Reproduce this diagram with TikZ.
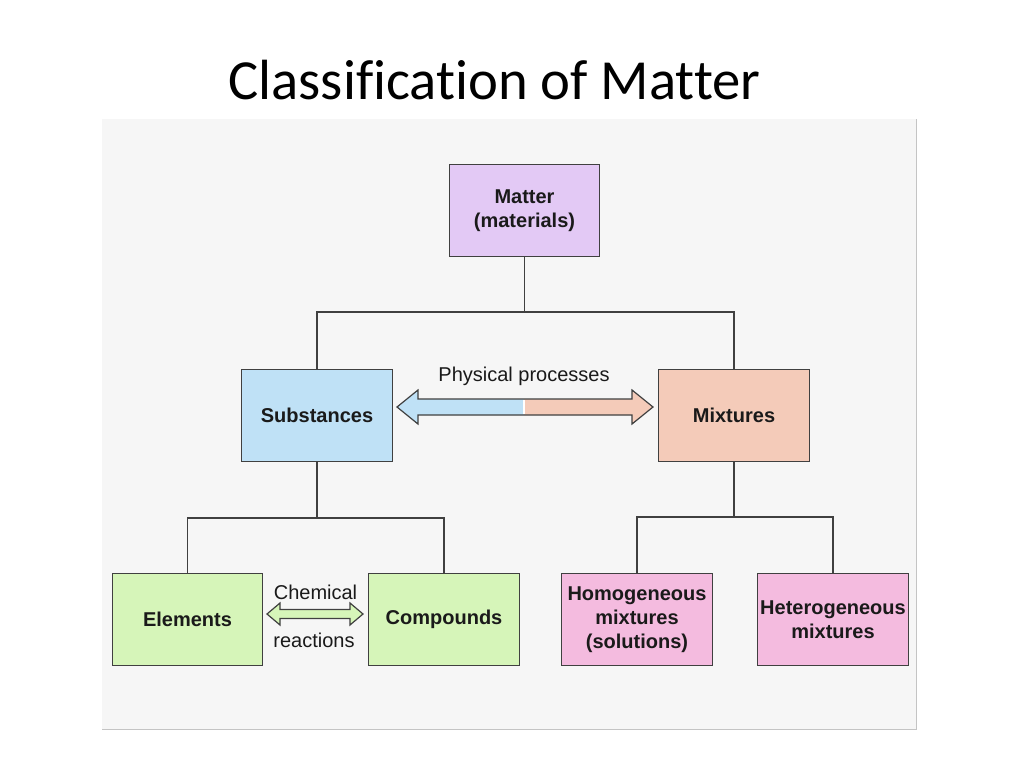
\documentclass[tikz,border=0pt]{standalone}
\usepackage{fontspec}
\setmainfont{Liberation Sans}
\newfontfamily\titlefont[Ligatures=NoCommon]{Carlito}
\definecolor{panel}{HTML}{F6F6F6}
\definecolor{panelline}{HTML}{C4C4C4}
\definecolor{boxline}{HTML}{404040}
\definecolor{textc}{HTML}{1A1A1A}
\definecolor{lav}{HTML}{E3C9F5}
\definecolor{sky}{HTML}{BFE1F6}
\definecolor{peach}{HTML}{F4CBB9}
\definecolor{lgreen}{HTML}{D6F5B9}
\definecolor{pinkc}{HTML}{F4BBDF}
\begin{document}
\begin{tikzpicture}[x=0.75pt,y=-0.75pt,
  box/.style={draw=boxline, line width=0.9pt, minimum width=113pt, minimum height=69.5pt,
    inner sep=0pt, align=center, font=\bfseries\fontsize{15}{18}\selectfont, text=textc},
  conn/.style={draw=boxline, line width=0.9pt},
  arrowshape/.style={draw=boxline, line width=0.9pt, line join=miter},
  lbl/.style={font=\fontsize{15}{18}\selectfont, text=textc, inner sep=0pt}]
\useasboundingbox (0,0) rectangle (1024,768);
\fill[white] (0,0) rectangle (1024,768);
\fill[panel] (102,119) rectangle (916,729);
\draw[panelline, line width=0.75pt] (102,729) -- (916,729) -- (916,119);

\node[anchor=base, inner sep=0pt, font=\titlefont\fontsize{42.5}{50}\selectfont] (title) at (494.5,99) {Classification of Matter};

\node[box, fill=lav] (matter) at (524.5,210.5) {Matter\\(materials)};
\node[box, fill=sky] (subst) at (317,415.5) {Substances};
\node[box, fill=peach] (mix) at (734,415.5) {Mixtures};
\node[box, fill=lgreen] (elem) at (187.5,619.5) {Elements};
\node[box, fill=lgreen] (comp) at (444,619.5) {Compounds};
\node[box, fill=pinkc] (homo) at (637,619.5) {Homogeneous\\mixtures\\(solutions)};
\node[box, fill=pinkc] (hetero) at (833,619.5) {Heterogeneous\\mixtures};

\coordinate (j1) at (524.5,312);
\coordinate (j2) at (317,518);
\coordinate (j3) at (734,517);
\draw[conn] (matter.south) -- (j1) -| (subst.north);
\draw[conn] (j1) -| (mix.north);
\draw[conn] (subst.south) -- (j2) -| (elem.north);
\draw[conn] (j2) -| (comp.north);
\draw[conn] (mix.south) -- (j3) -| (homo.north);
\draw[conn] (j3) -| (hetero.north);

% physical processes double arrow
\fill[sky] (397,407) -- (418,390) -- (418,399) -- (524,399) -- (524,415) -- (418,415) -- (418,424) -- cycle;
\fill[peach] (524,399) -- (632,399) -- (632,390) -- (653,407) -- (632,424) -- (632,415) -- (524,415) -- cycle;
\draw[white, line width=0.8pt] (524,400) -- (524,414);
\draw[arrowshape] (397,407) -- (418,390) -- (418,399) -- (632,399) -- (632,390) -- (653,407) -- (632,424) -- (632,415) -- (418,415) -- (418,424) -- cycle;
\node[lbl] (phys) at (524,376) {Physical processes};

% chemical reactions double arrow
\draw[arrowshape, fill=lgreen] (267,614) -- (280,603) -- (280,609.5) -- (350,609.5) -- (350,603) -- (363,614) -- (350,625) -- (350,618.5) -- (280,618.5) -- (280,625) -- cycle;
\node[lbl] (chem) at (315.5,592) {Chemical};
\node[lbl] (react) at (314,640) {reactions};
\end{tikzpicture}
\end{document}
